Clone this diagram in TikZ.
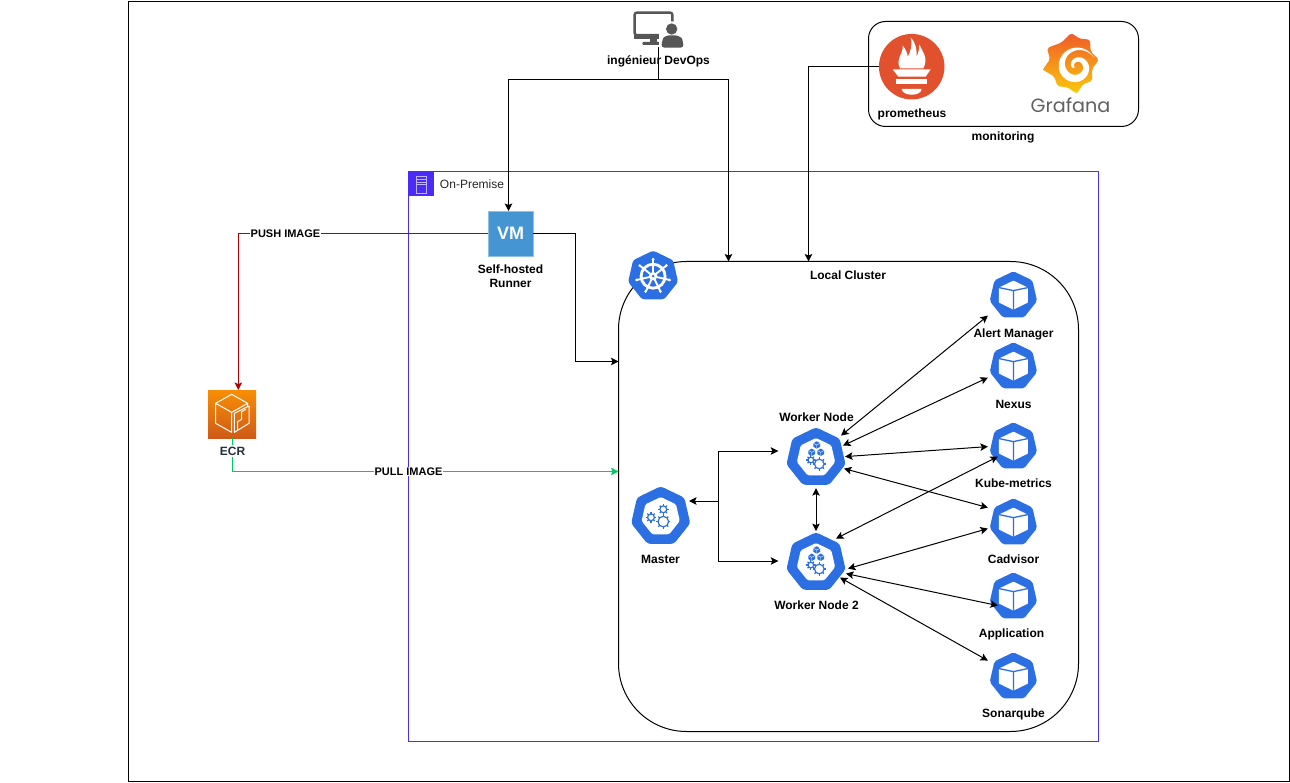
\documentclass[tikz,border=0pt]{standalone}
\usepackage{fontspec}
\setmainfont{Liberation Sans}
\newfontfamily\grafanafont{Poppins}
\usetikzlibrary{arrows.meta,calc,shapes.geometric}
\definecolor{kblue}{HTML}{2C6FE3}
\definecolor{premblue}{HTML}{4B2BF5}
\definecolor{pushred}{HTML}{B20000}
\definecolor{pullgreen}{HTML}{00CC66}
\definecolor{iconGray}{HTML}{565656}
\definecolor{promred}{HTML}{E2512D}
\definecolor{vmblue}{HTML}{4495D1}
\definecolor{ecrdark}{HTML}{232F3E}
\definecolor{ecrtop}{HTML}{F78E04}
\definecolor{ecrbot}{HTML}{CF5A18}
\definecolor{graftop}{HTML}{F05A28}
\definecolor{grafbot}{HTML}{FBCA0A}
\tikzset{
  lbl/.style={font=\bfseries\fontsize{12}{14}\selectfont,align=center,inner sep=0pt,outer sep=0pt,text=black},
  edgelbl/.style={font=\bfseries\fontsize{11}{13}\selectfont,fill=white,inner sep=.5pt,outer sep=0pt,text=black},
  iconbox/.style={shape=rectangle,inner sep=0pt,outer sep=0pt},
  conn/.style={line width=1pt,black},
  onearrow/.style={conn,-{Stealth[length=7.5pt,width=7.5pt,inset=1.5pt]}},
  biarrow/.style={conn,{Stealth[length=7.5pt,width=7.5pt,inset=1.5pt]}-{Stealth[length=7.5pt,width=7.5pt,inset=1.5pt]}},
}
\newcommand\heptpath[3]{%
  \fill[#2,rounded corners=#3pt,scale=#1] (0,-1) -- (.782,-.623) -- (.975,.223) -- (.434,.901) -- (-.434,.901) -- (-.975,.223) -- (-.782,-.623) -- cycle;}
\newcommand\gearat[3]{%
  \foreach \a in {0,45,...,315}{\draw[kblue,line width=1.2pt] ({#1+#3*cos(\a)},{#2+#3*sin(\a)}) -- ({#1+(#3+1.8)*cos(\a)},{#2+(#3+1.8)*sin(\a)});}
  \draw[kblue,line width=1.2pt,fill=white] (#1,#2) circle[radius=#3];}
\newcommand\minicube[2]{%
  \fill[kblue] (#1,#2-3.7) -- (#1+3.3,#2-1.8) -- (#1+3.3,#2+1.8) -- (#1,#2+3.7) -- (#1-3.3,#2+1.8) -- (#1-3.3,#2-1.8) -- cycle;
  \draw[white,line width=.4pt] (#1-3.3,#2-1.8) -- (#1,#2) -- (#1+3.3,#2-1.8) (#1,#2) -- (#1,#2+3.7);}
\newcommand\podicon[1]{%
  \begin{scope}[shift={(#1)}]
    \heptpath{24.3}{kblue}{2}
    \fill[white,rounded corners=.6pt] (0,-15) -- (14.5,-8) -- (14.5,7) -- (0,14) -- (-14.5,7) -- (-14.5,-8) -- cycle;
    \draw[kblue,line width=1.3pt] (-14.5,-8) -- (0,-5) -- (14.5,-8) (0,-5) -- (0,14);
  \end{scope}}
\newcommand\workericon[1]{%
  \begin{scope}[shift={(#1)}]
    \heptpath{30.3}{kblue}{3}
    \heptpath{19.6}{white}{1.5}
    \minicube{.7}{-12.6} \minicube{-4.3}{-5.3} \minicube{4.7}{-5.3}
    \gearat{3.3}{6.4}{4.8} \gearat{-5.2}{2.4}{2.8}
  \end{scope}}
\begin{document}
\begin{tikzpicture}[x=1pt,y=-1pt]
\useasboundingbox (0,0) rectangle (1290,783);
\fill[white] (0,0) rectangle (1290,783);
% frames
\node[iconbox,draw=black,line width=1pt,minimum width=1160.5pt,minimum height=780pt] (frame) at (708.75,391.25) {};
\node[iconbox,draw=premblue,line width=1pt,minimum width=690pt,minimum height=570pt] (prem) at (753.5,456.5) {};
\node[iconbox,draw=black,line width=1pt,rounded corners=17pt,minimum width=270pt,minimum height=105pt] (mon) at (1003.5,74) {};
\node[iconbox,draw=black,line width=1pt,rounded corners=68pt,minimum width=460pt,minimum height=470pt] (cluster) at (848.5,496.5) {};
% hidden boxes for the icons
\node[iconbox,minimum width=51pt,minimum height=36pt] (devops) at (658.5,29) {};
\node[iconbox,fill=vmblue,draw=vmblue!60!white,line width=.8pt,minimum size=45pt,text=white,font=\bfseries\fontsize{18}{18}\selectfont] (vm) at (510.5,233.5) {VM};
\node[iconbox,minimum size=48pt] (ecr) at (232.3,414) {};
\node[iconbox,circle,fill=promred,minimum size=65.5pt] (prom) at (911.7,66.7) {};
\node[iconbox,minimum size=60pt] (master) at (660.7,516.6) {};
\node[iconbox,minimum size=60pt] (wn) at (816,457.6) {};
\node[iconbox,minimum size=60pt] (wntwo) at (816,562.6) {};
\node[iconbox,minimum size=48pt] (alert) at (1013.4,295.6) {};
\node[iconbox,minimum size=48pt] (nexus) at (1013.4,366.6) {};
\node[iconbox,minimum size=48pt] (kubem) at (1013.4,446.6) {};
\node[iconbox,minimum size=48pt] (cadv) at (1013.4,522.6) {};
\node[iconbox,minimum size=48pt] (appl) at (1013.4,596.6) {};
\node[iconbox,minimum size=48pt] (sonar) at (1013.4,676.6) {};
\node[iconbox,minimum size=50pt] (kube) at (653.1,276.2) {};
% on-premise badge
\fill[premblue] (408,171) rectangle (433.5,196.5);
\draw[white!65!premblue,line width=.7pt] (416.5,176) rectangle (426,193) (416.5,179.5) -- (426,179.5) (416.5,182) -- (426,182) (416.5,184.5) -- (426,184.5);
% kube icon
\begin{scope}[shift={(kube)}]
  \heptpath{25.6}{kblue}{2.5}
  \draw[white,line width=2.8pt] (0,0) circle[radius=12];
  \foreach \a in {-90,-38.57,12.86,64.29,115.71,167.14,218.57}{
    \draw[white,line width=1.9pt] (0,0) -- ++(\a:17);
    \fill[white] (0,0) ++(\a:17) circle[radius=1.5];}
  \fill[white] (0,0) circle[radius=4.2];
  \fill[kblue] (0,0) circle[radius=1.4];
\end{scope}
% master icon
\begin{scope}[shift={(master)}]
  \heptpath{30.3}{kblue}{3}
  \heptpath{19.6}{white}{1.5}
  \gearat{2.6}{5}{5.3} \gearat{2.6}{-7.3}{3.4} \gearat{-9.7}{.7}{3.4}
\end{scope}
\workericon{wn}
\workericon{wntwo}
\podicon{alert}\podicon{nexus}\podicon{kubem}\podicon{cadv}\podicon{appl}\podicon{sonar}
% devops icon
\begin{scope}[shift={(600,0)},scale=1/3]
  \draw[iconGray,line width=2.4pt,rounded corners=2pt] (185,105) -- (104,105) -- (104,38) -- (217,38) -- (217,72);
  \fill[iconGray] (102,103) rectangle (180,116);
  \fill[iconGray] (150,116) rectangle (172,128);
  \fill[iconGray,rounded corners=1pt] (127,126) rectangle (180,135);
  \fill[white] (176,90) rectangle (260,150);
  \fill[white] (215,87) circle[radius=23];
  \fill[iconGray] (215,87) circle[radius=17];
  \fill[iconGray,rounded corners=3pt] (184,143) -- (186,125) .. controls (190,112) and (200,106) .. (215,106) .. controls (232,106) and (245,112) .. (249,125) -- (251,143) -- cycle;
\end{scope}
% ECR icon
\shade[top color=ecrtop,bottom color=ecrbot] (208,390) rectangle (256,438);
\begin{scope}[shift={(195,380)},scale=1/3]
  \draw[white,line width=1pt,line join=round] (110,43) -- (158,70) -- (158,78) (158,70) -- (110,97) -- (62,70) -- (110,43) (62,70) -- (62,130) -- (110,157) -- (110,97);
  \draw[white,line width=1pt,line join=round] (118,157) -- (118,100) -- (162,78) -- (162,130) -- cycle;
  \draw[white,line width=1pt,line join=round] (128,150) -- (128,125) -- (140,118) -- (140,95) -- (152,88);
\end{scope}
% prometheus flame
\begin{scope}[shift={(860,15)},scale=1/3]
  \fill[white] (120,160) .. controls (105,130) and (130,120) .. (128,92) .. controls (138,103) and (142,115) .. (143,125) .. controls (152,110) and (158,90) .. (152,68) .. controls (170,85) and (170,110) .. (170,125) .. controls (175,115) and (178,100) .. (178,88) .. controls (190,115) and (205,130) .. (190,160) -- cycle;
  \fill[white] (98,163) -- (212,163) -- (197,185) -- (115,185) -- cycle;
  \fill[white] (109,193) rectangle (201,208);
  \fill[white] (125,222) -- (185,222) .. controls (183,245) and (127,245) .. (125,222) -- cycle;
\end{scope}
% grafana logo
\begin{scope}[shift={(1035,28)},scale=1/3]
  \shade[top color=graftop,bottom color=grafbot,rounded corners=2pt]
    (108,15) -- (134,32) -- (165,35) -- (167,71) -- (192,95) -- (171,123) -- (172,158) -- (144,169) -- (125,197) -- (98,178) -- (68,175) -- (57,145) -- (23,125) -- (45,94) -- (36,60) -- (79,44) -- cycle;
  \fill[white] plot[domain=0:540,samples=110,smooth,variable=\s]
      ({125+(58-.09*\s+.5*min(\s/8,22,22-(\s-250)*.05))*cos(-25-\s)},{115+(58-.09*\s+.5*min(\s/8,22,22-(\s-250)*.05))*sin(-25-\s)})
    -- plot[domain=540:0,samples=110,smooth,variable=\s]
      ({125+(58-.09*\s-.5*min(\s/8,22,22-(\s-250)*.05))*cos(-25-\s)},{115+(58-.09*\s-.5*min(\s/8,22,22-(\s-250)*.05))*sin(-25-\s)}) -- cycle;
\end{scope}
\node[iconbox,font=\grafanafont\fontsize{19.2}{22}\selectfont,text=black!62] (graf) at (1070.5,105) {Grafana};
% connectors
\coordinate (devj) at ($(devops.south)+(0,32.5)$);
\draw[conn] (devops.south) -- (devj);
\draw[onearrow] (devj) -| ($(vm.north)+(-2,0)$);
\draw[onearrow] (devj) -| ($(cluster.north)+(-120,0)$);
\draw[onearrow] (prom.west) -| ($(cluster.north)+(-40,0)$);
\draw[onearrow] (vm.east) -- ++(42,0) |- ($(cluster.west)+(0,-135)$);
\draw[pushred,line width=1pt,-{Stealth[length=7.5pt,width=7.5pt,inset=1.5pt]}] (vm.west) -| ($(ecr.north)+(6,0)$);
\draw[pullgreen,line width=1pt,-{Stealth[length=7.5pt,width=7.5pt,inset=1.5pt]}] (ecr.south) |- ($(cluster.west)+(0,-25)$);
\coordinate (mj) at ($(master)+(57.8,-15.6)$);
\draw[onearrow] (mj) -- ($(master)+(28.3,-15.6)$);
\draw[onearrow] (mj) |- ($(wn)+(-37.7,-6.6)$);
\draw[onearrow] (mj) |- ($(wntwo)+(-37.7,-1.6)$);
\draw[biarrow] ($(wn)+(25,-22)$) -- ($(alert)+(-25.5,20)$);
\draw[biarrow] ($(wn)+(27,-12)$) -- ($(nexus)+(-25.5,11)$);
\draw[biarrow] ($(wn)+(29,-1)$) -- ($(kubem)+(-25.5,0)$);
\draw[biarrow] ($(wn)+(28,11)$) -- ($(cadv)+(-25.5,-15)$);
\draw[biarrow] ($(wntwo)+(20,-24)$) -- ($(kubem)+(-15.5,10)$);
\draw[biarrow] ($(wntwo)+(32,6)$) -- ($(cadv)+(-25.5,6)$);
\draw[biarrow] ($(wntwo)+(30,11)$) -- ($(appl)+(-15.5,9)$);
\draw[biarrow] ($(wntwo)+(24,15)$) -- ($(sonar)+(-25.5,-16)$);
\draw[biarrow] ($(wn)+(0,30.5)$) -- ($(wntwo)+(0,-31.5)$);
% labels
\node[lbl] (ldev) at (658.5,61) {ingénieur DevOps};
\node[lbl] (lprom) at (912,114) {prometheus};
\node[lbl] (lmon) at (1003,137) {monitoring};
\node[iconbox,font=\fontsize{12}{14}\selectfont,text=black!85] (lprem) at (472,184.5) {On-Premise};
\node[lbl] (lvm) at (510.5,276) {Self-hosted\\[0pt]Runner};
\node[lbl] (lclus) at (848,275) {Local Cluster};
\node[lbl] (lal) at (1013.5,334) {Alert Manager};
\node[lbl] (lne) at (1013.5,404) {Nexus};
\node[lbl] (lku) at (1013.5,483) {Kube-metrics};
\node[lbl] (lca) at (1013.5,559) {Cadvisor};
\node[lbl] (lap) at (1011.5,634) {Application};
\node[lbl] (lso) at (1013.5,714) {Sonarqube};
\node[lbl] (lwn) at (816.5,417) {Worker Node};
\node[lbl] (lwt) at (816.5,605) {Worker Node 2};
\node[lbl] (lma) at (660.5,559) {Master};
\node[lbl,fill=white,text=ecrdark,inner ysep=1.5pt] (lec) at (232.5,451) {ECR};
\node[edgelbl] (lpush) at (285.5,233.5) {PUSH IMAGE};
\node[edgelbl] (lpull) at (408.5,471.5) {PULL IMAGE};
\end{tikzpicture}
\end{document}
